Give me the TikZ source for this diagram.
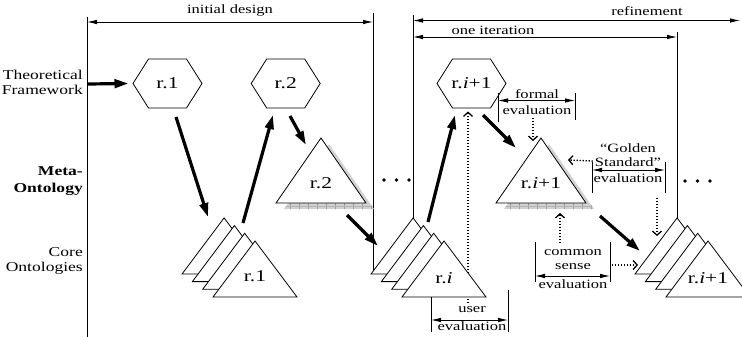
\documentclass[tikz,border=0pt]{standalone}
\usepackage{fontspec}
\setmainfont{Liberation Serif}[FakeStretch=1.3]
\usetikzlibrary{arrows.meta,calc}
\tikzset{
  frame/.style={line width=0.8pt},
  dimarrow/.style={line width=0.8pt,{Latex[length=10pt,width=4.5pt]}-{Latex[length=10pt,width=4.5pt]}},
  bigarrow/.style={line width=3.2pt,-{Triangle[length=14pt,width=8.5pt]}},
  dotarrow/.style={line width=1.3pt,dash pattern=on 1.3pt off 1.7pt,-{Straight Barb[length=4pt,width=9pt]}},
  lbl/.style={inner sep=0pt,font=\fontsize{12.7}{14}\selectfont},
  side/.style={inner sep=0pt,anchor=east,align=right,font=\fontsize{13.5}{15}\selectfont},
  shapelbl/.style={inner sep=0pt,font=\fontsize{16.5}{18}\selectfont},
  tri/.style={draw,fill=white,line width=0.8pt},
  hexa/.style={line width=0.8pt},
}
\newcommand\hexpath[1]{\draw[hexa] (#1) ++(-34.5,0) -- ++(15.5,-24.5) -- ++(38,0) -- ++(15.5,24.5) -- ++(-15.5,24.5) -- ++(-38,0) -- cycle;}
\newcommand\stackat[1]{%
  \foreach \k in {3,2,1,0} {\filldraw[tri] ({#1-10.3*\k},{241-7.7*\k}) -- ++(42,56) -- ++(-84,0) -- cycle;}}
\newcommand\metatri[1]{%
  \fill[gray!35] ({#1+8},144) -- ++(45,65) -- ++(-90,0) -- cycle;
  \begin{scope}
    \clip ({#1+8},144) -- ++(45,65) -- ++(-90,0) -- cycle;
    \foreach \j in {0,...,11} \draw[gray!75,line width=0.5pt] ({#1-40+9*\j},203) -- ++(0,8);
    \draw[gray!60,line width=0.4pt] ({#1-45},206) -- ++(100,0);
  \end{scope}
  \filldraw[tri] (#1,138) -- ++(45,65) -- ++(-90,0) -- cycle;}
\begin{document}
\begin{tikzpicture}[x=1pt,y=-1pt]
\useasboundingbox (0,0) rectangle (742,337);
\clip (0,0) rectangle (742,337);

% frame lines and spans
\draw[frame] (87,17) -- (87,337);
\draw[frame] (373,13) -- (373,272);
\draw[frame] (413,15) -- (413,218);
\draw[frame] (677,32) -- (677,218);
\draw[dimarrow] (87,22) -- (373,22);
\draw[dimarrow] (413,20.5) -- (740,20.5);
\draw[dimarrow] (413,37) -- (677,37);
\node[lbl] (tinit) at (230,10.5) {initial design};
\node[lbl] (tref) at (647,11.5) {refinement};
\node[lbl] (tone) at (493,30.5) {one iteration};

% side labels
\node[side] (tf) at (83,82.5) {Theoretical\\Framework};
\node[side,font=\bfseries\fontsize{13.5}{17}\selectfont] (mo) at (83,181.5) {Meta-\\Ontology};
\node[side] (co) at (83,260.5) {Core\\Ontologies};

% shape label centres
\node[shapelbl] (h1) at (167.5,83.5) {};
\node[shapelbl] (h2) at (285.7,83.5) {};
\node[shapelbl] (hi) at (471.5,83.5) {};

% user evaluation dotted line (behind the stack)
\node[lbl] (ue1) at (472,310) {user};
\node[lbl] (ue2) at (472,326.5) {evaluation};
\draw[dotarrow] ($(ue1.center)+(-4,-7)$) -- ($(hi.center)+(-3.5,28)$);

% meta-ontology triangles
\metatri{321}
\metatri{541}
\node[shapelbl] (t2) at (321,183) {r.2};
\node[shapelbl] (ti) at (541,183) {r.\textit{i}+1};

% core ontology stacks
\stackat{255}
\stackat{444}
\stackat{708}
\node[shapelbl] (s1) at (255,276) {r.1};
\node[shapelbl] (si) at (444,278) {r.\textit{i}};
\node[shapelbl] (sii) at (708,278) {r.\textit{i}+1};

% hexagons
\hexpath{h1.center}
\hexpath{h2.center}
\hexpath{hi.center}
\node[shapelbl] at (h1.center) {r.1};
\node[shapelbl] at (h2.center) {r.2};
\node[shapelbl] at (hi.center) {r.\textit{i}+1};

% dots
\foreach \d in {0,1,2} \fill (384+12.5*\d,180) circle (1.8);
\foreach \d in {0,1,2} \fill (685+12.5*\d,181) circle (1.8);

% thick arrows
\draw[bigarrow] ($(tf.east)+(5,1.5)$) -- ($(h1.center)+(-39,0)$);
\draw[bigarrow] ($(h1.center)+(8.5,33.5)$) -- ($(s1.center)+(-47,-59)$);
\draw[bigarrow] ($(s1.center)+(-12,-53)$) -- ($(h2.center)+(-12.7,31.5)$);
\draw[bigarrow] ($(h2.center)+(4.3,32.5)$) -- ($(t2.center)+(-15,-38)$);
\draw[bigarrow] ($(t2.center)+(26,32)$) -- ($(si.center)+(-66,-32)$);
\draw[bigarrow] ($(si.center)+(-16,-56)$) -- ($(hi.center)+(-16.5,31.5)$);
\draw[bigarrow] ($(hi.center)+(11.5,31.5)$) -- ($(ti.center)+(-25,-35)$);
\draw[bigarrow] ($(ti.center)+(59,33)$) -- ($(sii.center)+(-68,-27)$);

% user evaluation span
\draw[frame] (431,297) -- (431,332);
\draw[frame] (508,290) -- (508,332);
\draw[dimarrow] (431,320) -- (508,320);

% formal evaluation
\node[lbl] (fe1) at (537,94) {formal};
\node[lbl] (fe2) at (537,110) {evaluation};
\draw[frame] (498,93) -- (498,122);
\draw[frame] (575,93) -- (575,120);
\draw[dimarrow] (498,100.5) -- (575,100.5);
\draw[dotarrow] ($(fe2.center)+(-4,8)$) -- ($(ti.center)+(-8,-42)$);

% Golden Standard evaluation
\node[lbl] (ge1) at (628,148) {“Golden};
\node[lbl] (ge2) at (628,162) {Standard”};
\node[lbl] (ge3) at (628,178.5) {evaluation};
\draw[frame] (592,162) -- (592,193);
\draw[frame] (665,162) -- (665,193);
\draw[dimarrow] (592,170) -- (665,170);
\draw[dotarrow] ($(ge2.west)+(-2,-1)$) -- ($(ti.center)+(27,-23)$);
\draw[dotarrow] ($(ge3.center)+(29,19)$) -- ($(sii.center)+(-51,-42)$);

% common sense evaluation
\node[lbl] (ce1) at (573,253) {common};
\node[lbl] (ce2) at (573,267) {sense};
\node[lbl] (ce3) at (573,284.5) {evaluation};
\draw[frame] (535,242) -- (535,282);
\draw[frame] (610,242) -- (610,282);
\draw[dimarrow] (535,276) -- (610,276);
\draw[dotarrow] ($(ce1.center)+(-13,-10)$) -- ($(ti.center)+(19,30)$);
\draw[dotarrow] ($(ce2.center)+(39,-2)$) -- ($(sii.center)+(-70,-13)$);
\end{tikzpicture}
\end{document}
